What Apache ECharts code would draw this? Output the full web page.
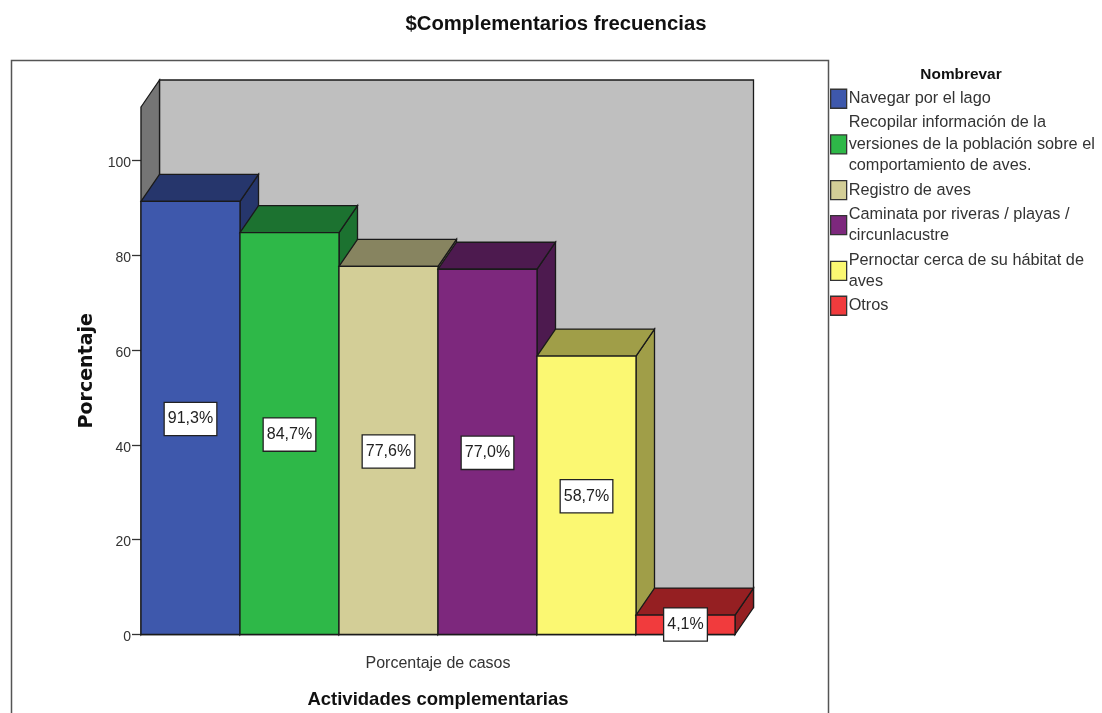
<!DOCTYPE html>
<html>
<head>
<meta charset="utf-8">
<style>html,body{margin:0;padding:0;background:#fff}#c{width:1102px;height:713px}</style>
<script src="https://cdn.jsdelivr.net/npm/echarts@6/dist/echarts.min.js"></script>
</head>
<body>
<div id="c"></div>
<script>
const categories = ['Navegar por el lago',
  'Recopilar información de la\nversiones de la población sobre el\ncomportamiento de aves.',
  'Registro de aves',
  'Caminata por riveras / playas /\ncircunlacustre',
  'Pernoctar cerca de su hábitat de\naves',
  'Otros'];
const values = [91.3, 84.7, 77.6, 77.0, 58.7, 4.1];
const frontColors = ['#3E58AC', '#2EB848', '#D3CE97', '#7D287D', '#FBF872', '#F13B3D'];
const topColors = ['#26366C', '#1C7230', '#878460', '#4D1A4F', '#A09E48', '#951F22'];
const yTicks = [0, 20, 40, 60, 80, 100];
const xLabels = ['Porcentaje de casos'];
const yTop = 111.2;
const depthX = 18.5, depthY = 27;
const edge = '#1a1a1a';
const font = '"Liberation Sans", Arial, sans-serif';

function face(points, fill) {
  return {type: 'polygon', shape: {points}, style: {fill, stroke: edge, lineWidth: 1.3}};
}
function wallItem(params, api) {
  const a = api.coord([0, yTop]), b = api.coord([0, 0]), c = api.coord([categories.length, yTop]);
  return {type: 'group', children: [
    face([[a[0] + depthX, a[1] - depthY], [c[0] + depthX, c[1] - depthY], [c[0] + depthX, b[1] - depthY], [a[0] + depthX, b[1] - depthY]], '#BFBFBF'),
    face([a, [a[0] + depthX, a[1] - depthY], [a[0] + depthX, b[1] - depthY], b], '#757575')
  ]};
}
function barItem(i) {
  return function (params, api) {
    const tl = api.coord([i, values[i]]), br = api.coord([i + 1, 0]);
    const x0 = tl[0], x1 = br[0], y0 = tl[1], y1 = br[1];
    return {type: 'group', children: [
      face([[x1, y0], [x1 + depthX, y0 - depthY], [x1 + depthX, y1 - depthY], [x1, y1]], topColors[i]),
      face([[x0, y0], [x0 + depthX, y0 - depthY], [x1 + depthX, y0 - depthY], [x1, y0]], topColors[i]),
      face([[x0, y0], [x1, y0], [x1, y1], [x0, y1]], frontColors[i]),
      {type: 'text', z2: 10, x: (x0 + x1) / 2, y: values[i] < 10 ? y1 - 10 : (y0 + y1) / 2 + 1,
       style: {text: values[i].toFixed(1).replace('.', ',') + '%', align: 'center', verticalAlign: 'middle',
         font: '16px ' + font, fill: '#222', backgroundColor: '#fff', borderColor: '#222', borderWidth: 1.3,
         padding: [9, 3, 7, 3]}}
    ]};
  };
}

const chart = echarts.init(document.getElementById('c'), null, {renderer: 'canvas'});
chart.setOption({
  animation: false,
  backgroundColor: '#fff',
  title: [
    {text: '$Complementarios frecuencias', left: 556, top: 24, padding: 0, textAlign: 'center', textVerticalAlign: 'middle',
     textStyle: {fontFamily: font, fontSize: 20.3, fontWeight: 'bold', color: '#111'}},
    {text: 'Nombrevar', left: 961, top: 75, padding: 0, textAlign: 'center', textVerticalAlign: 'middle',
     textStyle: {fontFamily: font, fontSize: 15.4, fontWeight: 'bold', color: '#111'}}
  ],
  graphic: [{type: 'rect', silent: true, z: -1, shape: {x: 11.5, y: 60.5, width: 817, height: 700},
    style: {fill: '#fff', stroke: '#555', lineWidth: 1.5}}],
  grid: {left: 141, top: 107, width: 594, height: 527.5, outerBoundsMode: 'none'},
  legend: {
    orient: 'vertical', left: 830, top: 88, padding: 0, itemGap: 2.7, itemWidth: 16, itemHeight: 19,
    icon: 'rect', selectedMode: false,
    itemStyle: {borderColor: '#333', borderWidth: 1.3},
    textStyle: {fontFamily: font, fontSize: 16.3, lineHeight: 21.5, color: '#333', padding: [0, 0, 0, -3]},
    data: categories
  },
  xAxis: [
    {type: 'category', data: xLabels, position: 'bottom',
     axisLine: {lineStyle: {color: edge, width: 1.3}},
     axisTick: {alignWithLabel: true, length: 14, lineStyle: {color: '#333', width: 1.3}},
     axisLabel: {fontFamily: font, fontSize: 16, color: '#333', margin: 21},
     name: 'Actividades complementarias', nameLocation: 'middle', nameGap: 56,
     nameTextStyle: {fontFamily: font, fontSize: 18.5, fontWeight: 'bold', color: '#111'}},
    {type: 'value', min: 0, max: categories.length, show: false}
  ],
  yAxis: {
    type: 'value', min: 0, max: yTop, interval: 20,
    splitLine: {show: false},
    axisLine: {show: true, lineStyle: {color: edge, width: 1.3}},
    axisTick: {show: true, length: 9, customValues: yTicks, lineStyle: {color: '#333', width: 1.3}},
    axisLabel: {fontFamily: font, fontSize: 14, color: '#333', margin: 10, verticalAlign: 'top', lineHeight: 6, customValues: yTicks},
    name: 'Porcentaje', nameLocation: 'middle', nameGap: 40,
    nameTextStyle: {fontFamily: '"DejaVu Sans", sans-serif', fontSize: 19, fontWeight: 'bold', color: '#111'}
  },
  series: [
    {type: 'custom', name: 'walls', xAxisIndex: 1, yAxisIndex: 0, silent: true, clip: false,
     renderItem: wallItem, data: [[0, 0]], encode: {x: 0, y: 1}}
  ].concat(categories.map((name, i) => ({
    type: 'custom', name, xAxisIndex: 1, yAxisIndex: 0, clip: false, silent: true,
    itemStyle: {color: frontColors[i]},
    renderItem: barItem(i), data: [[i, values[i]]], encode: {x: 0, y: 1}
  })))
});
</script>
</body>
</html>
